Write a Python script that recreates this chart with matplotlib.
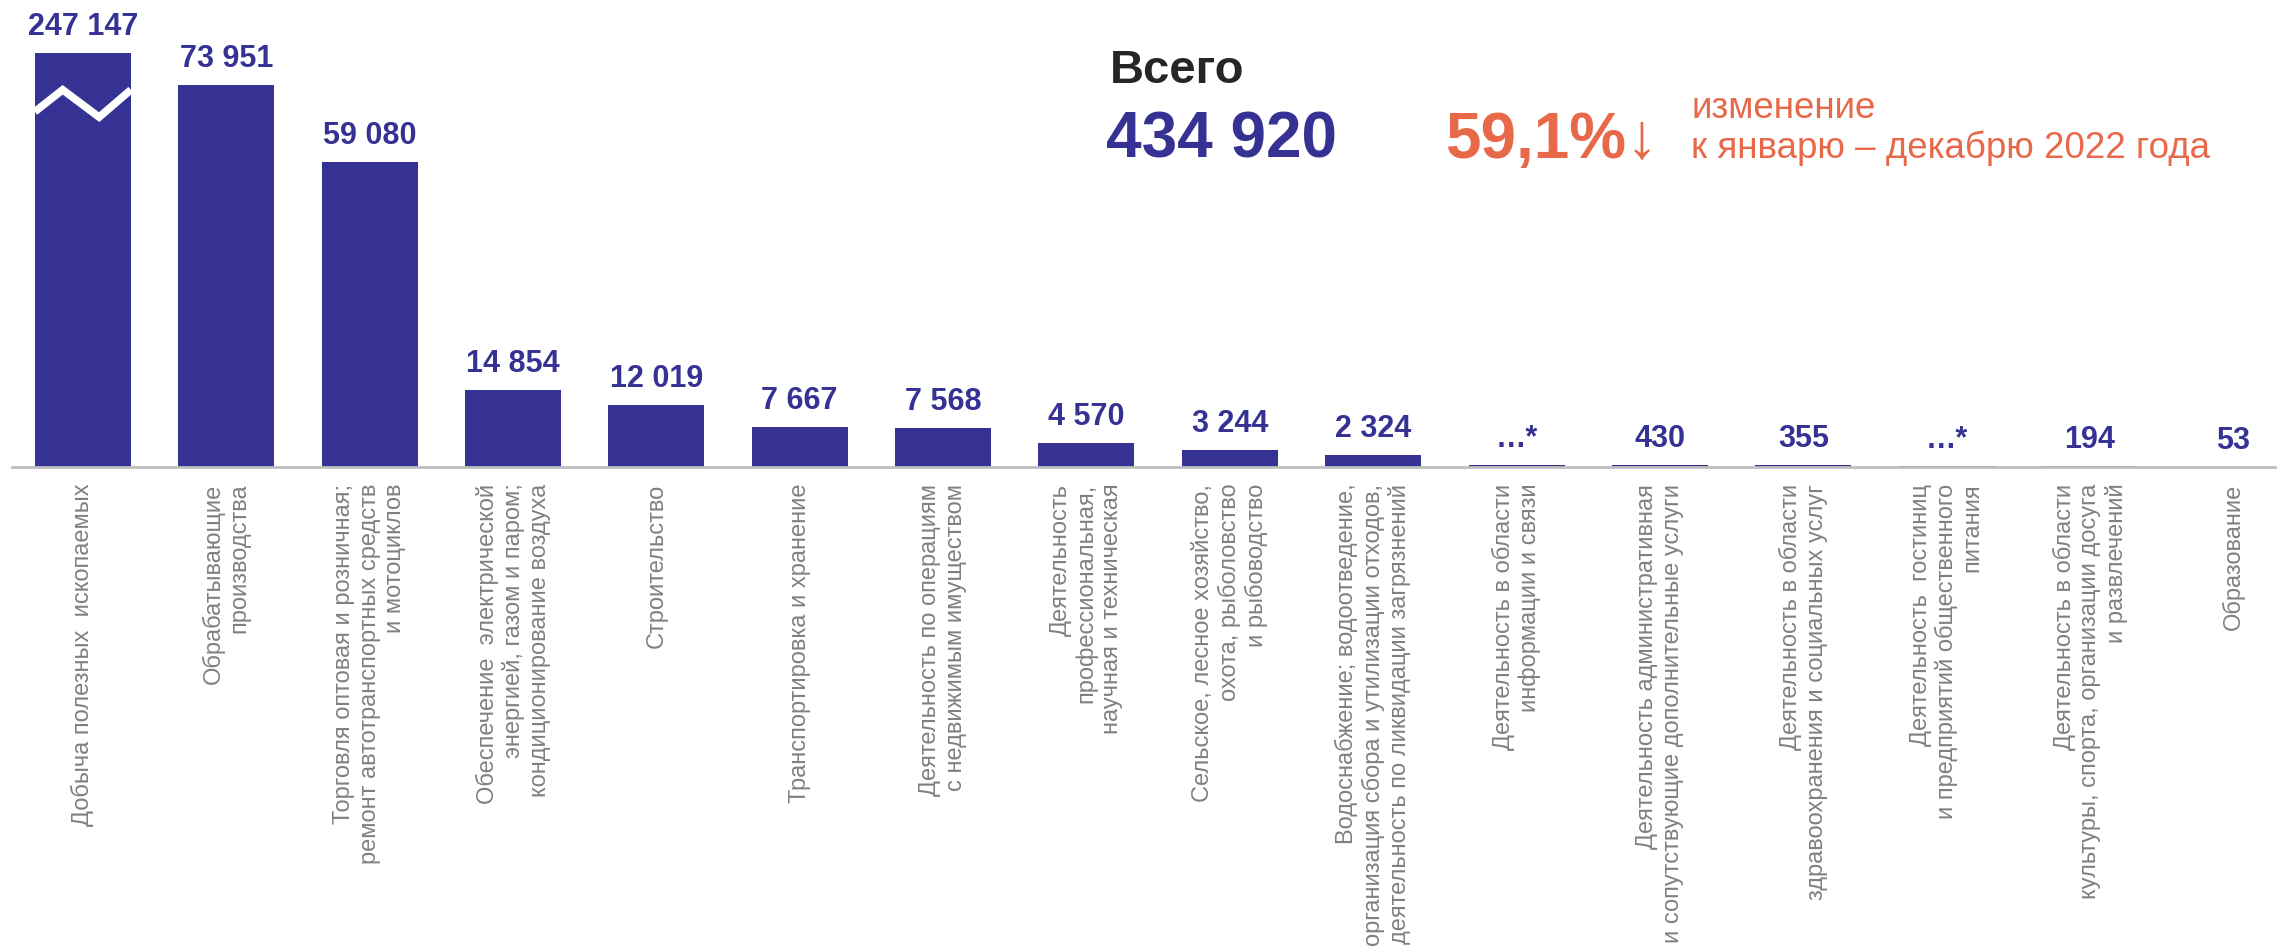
import numpy as np
import matplotlib
matplotlib.use("Agg")
import matplotlib.pyplot as plt

plt.rcParams['font.family'] = ['Liberation Sans', 'DejaVu Sans']

# данные
categories = [
    "Добыча полезных  ископаемых",
    "Обрабатывающие\nпроизводства",
    "Торговля оптовая и розничная;\nремонт автотранспортных средств\nи мотоциклов",
    "Обеспечение  электрической\nэнергией, газом и паром;\nкондиционирование воздуха",
    "Строительство",
    "Транспортировка и хранение",
    "Деятельность по операциям\nс недвижимым имуществом",
    "Деятельность\nпрофессиональная,\nнаучная и техническая",
    "Сельское, лесное хозяйство,\nохота, рыболовство\nи рыбоводство",
    "Водоснабжение; водоотведение,\nорганизация сбора и утилизации отходов,\nдеятельность по ликвидации загрязнений",
    "Деятельность в области\nинформации и связи",
    "Деятельность административная\nи сопутствующие дополнительные услуги",
    "Деятельность в области\nздравоохранения и социальных услуг",
    "Деятельность  гостиниц\nи предприятий общественного\nпитания",
    "Деятельность в области\nкультуры, спорта, организации досуга\nи развлечений",
    "Образование",
]
# для "…*" значения скрыты, высота столбца оценена по картинке
values = [247147, 73951, 59080, 14854, 12019, 7667, 7568, 4570, 3244, 2324,
          400, 430, 355, 200, 194, 53]
value_labels = ["247 147", "73 951", "59 080", "14 854", "12 019", "7 667",
                "7 568", "4 570", "3 244", "2 324", "…*", "430", "355", "…*",
                "194", "53"]
total_label = "434 920"
change_label = "59,1%↓"

navy = '#353294'
orange = '#E8694A'
grey = '#808080'

W, H = 2290, 949
fig = plt.figure(figsize=(W / 100, H / 100), dpi=100)
ax = fig.add_axes([12 / W, (H - 467) / H, (2275 - 12) / W, 467 / H])

break_at = 80150  # первый столбец обрезан
shown = [min(v, break_at) for v in values]
x = np.arange(len(values))
ax.bar(x, shown, width=0.67, color=navy, edgecolor='none')
ax.set_xlim(-0.494, 15.29)
ax.set_ylim(0, 90400)

# разрыв на первом столбце
hw = 0.67 / 2
zx = np.array([-1, -0.42, 0.34, 1]) * hw
zy = np.array([0.858, 0.911, 0.845, 0.911]) * break_at
ax.plot(zx, zy, color='white', lw=5.5, solid_capstyle='butt', solid_joinstyle='miter')

for i in range(len(values)):
    ax.annotate(value_labels[i], (x[i], shown[i]), xytext=(0, 13), textcoords='offset points',
                ha='center', va='baseline', fontsize=22, fontweight='bold', color=navy,
                annotation_clip=False)
    ax.annotate(categories[i], (x[i], 0), xytext=(0, -12), textcoords='offset points',
                ha='center', va='top', rotation=90, multialignment='right',
                fontsize=17, color=grey, linespacing=1.2, annotation_clip=False)

for s in ['top', 'right', 'left']:
    ax.spines[s].set_visible(False)
ax.spines['bottom'].set_color('#BFBFBF')
ax.spines['bottom'].set_linewidth(2)
ax.set_xticks([])
ax.set_yticks([])

fig.text(1110 / W, 1 - 83 / H, "Всего", fontsize=34, fontweight='bold', color='#262626', va='baseline')
fig.text(1106 / W, 1 - 158 / H, total_label, fontsize=46, fontweight='bold', color=navy, va='baseline')
fig.text(1445 / W, 1 - 158 / H, change_label, fontsize=46, fontweight='bold', color=orange, va='baseline')
fig.text(1691 / W, 1 - 118 / H, "изменение", fontsize=26.5, color=orange, va='baseline')
fig.text(1691 / W, 1 - 158 / H, "к январю – декабрю 2022 года", fontsize=26.5, color=orange, va='baseline')

fig.savefig('out.png', dpi=100, facecolor='white')
